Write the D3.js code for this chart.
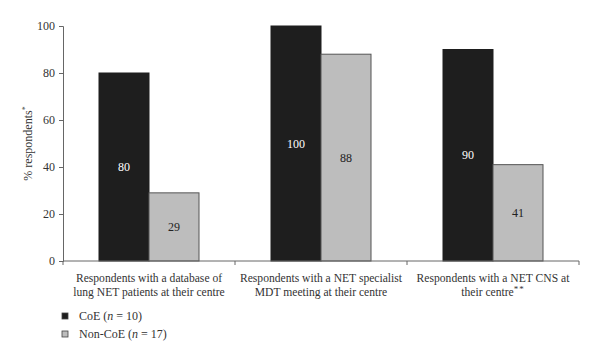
<!DOCTYPE html>
<html><head><meta charset="utf-8">
<script src="https://cdn.jsdelivr.net/npm/d3@7"></script>
<style>body{margin:0;background:#fff}svg{display:block}text{font-family:"Liberation Serif","Times New Roman",serif}</style>
</head><body>
<svg id="c" width="600" height="360"></svg>
<script>
const categories = [
  ["Respondents with a database of", "lung NET patients at their centre"],
  ["Respondents with a NET specialist", "MDT meeting at their centre"],
  ["Respondents with a NET CNS at", "their centre**"]
];
const seriesNames = ["CoE", "Non-CoE"];
const seriesN = [10, 17];
const coeValues = [80, 100, 90];
const nonCoeValues = [29, 88, 41];
const yTicks = [0, 20, 40, 60, 80, 100];
const colors = ["#1e1e1e", "#bdbdbd"];

(function () {
const svg = d3.select("#c");
const mLeft = 63, mRight = 579, mTop = 26, mBottom = 261;
const x = d3.scaleBand().domain(d3.range(categories.length)).range([mLeft, mRight]).paddingInner(0).paddingOuter(0);
const y = d3.scaleLinear().domain([0, 100]).range([mBottom, mTop]);
const barW = 50;
const sub = d3.scaleBand().domain([0, 1]).range([-barW, barW]);

const series = [coeValues, nonCoeValues];
series.forEach((vals, si) => {
  const g = svg.append("g");
  vals.forEach((v, i) => {
    const cx = x(i) + x.bandwidth() / 2;
    const bx = cx + sub(si);
    g.append("rect").attr("x", bx).attr("y", y(v)).attr("width", sub.bandwidth()).attr("height", y(0) - y(v))
      .attr("fill", colors[si]).attr("stroke", si === 0 ? "#1e1e1e" : "#555").attr("stroke-width", 1);
    g.append("text").attr("x", bx + sub.bandwidth() / 2).attr("y", (y(v) + y(0)) / 2 + 4)
      .attr("text-anchor", "middle").attr("font-size", 12).attr("fill", si === 0 ? "#fff" : "#222").text(v);
  });
});

// y axis
const ya = svg.append("g").attr("transform", `translate(${mLeft},0)`)
  .call(d3.axisLeft(y).tickValues(yTicks).tickSize(4).tickPadding(4));
ya.select(".domain").attr("stroke", "#666");
ya.selectAll(".tick line").attr("stroke", "#666");
ya.selectAll("text").attr("font-size", 12).attr("fill", "#333");

// x axis
const xa = svg.append("g").attr("transform", `translate(0,${mBottom})`);
xa.append("line").attr("x1", mLeft).attr("x2", mRight).attr("y1", 0).attr("y2", 0).attr("stroke", "#666");
const bounds = d3.range(categories.length + 1).map(i => i < categories.length ? x(i) : x(i - 1) + x.bandwidth());
xa.selectAll("line.t").data(bounds).enter().append("line").attr("class", "t")
  .attr("x1", d => d).attr("x2", d => d).attr("y1", 0).attr("y2", 4).attr("stroke", "#666");
categories.forEach((lines, i) => {
  const t = svg.append("text").attr("x", x(i) + x.bandwidth() / 2).attr("text-anchor", "middle")
    .attr("font-size", 11.6).attr("fill", "#333");
  lines.forEach((ln, j) => {
    const ts = t.append("tspan").attr("x", x(i) + x.bandwidth() / 2).attr("y", 282 + j * 14);
    if (ln.endsWith("**")) {
      ts.text(ln.slice(0, -2));
      ts.append("tspan").attr("dy", -4).attr("font-size", 9).attr("letter-spacing", 1).text("**");
    } else ts.text(ln);
  });
});

// y label
const yl = svg.append("text").attr("transform", `translate(32,${(mTop + mBottom) / 2}) rotate(-90)`)
  .attr("text-anchor", "middle").attr("font-size", 12).attr("fill", "#333");
yl.append("tspan").text("% respondents");
yl.append("tspan").attr("dy", -4).attr("font-size", 8).text("*");

// legend
seriesNames.forEach((name, i) => {
  const ly = 313 + i * 18;
  svg.append("rect").attr("x", 62).attr("y", ly).attr("width", 6).attr("height", 6)
    .attr("fill", colors[i]).attr("stroke", "#444").attr("stroke-width", 0.8);
  const t = svg.append("text").attr("x", 79).attr("y", ly + 7).attr("font-size", 12).attr("fill", "#333");
  t.append("tspan").text(name + " (");
  t.append("tspan").attr("font-style", "italic").text("n");
  t.append("tspan").text(" = " + seriesN[i] + ")");
});
})();
</script>
</body></html>
